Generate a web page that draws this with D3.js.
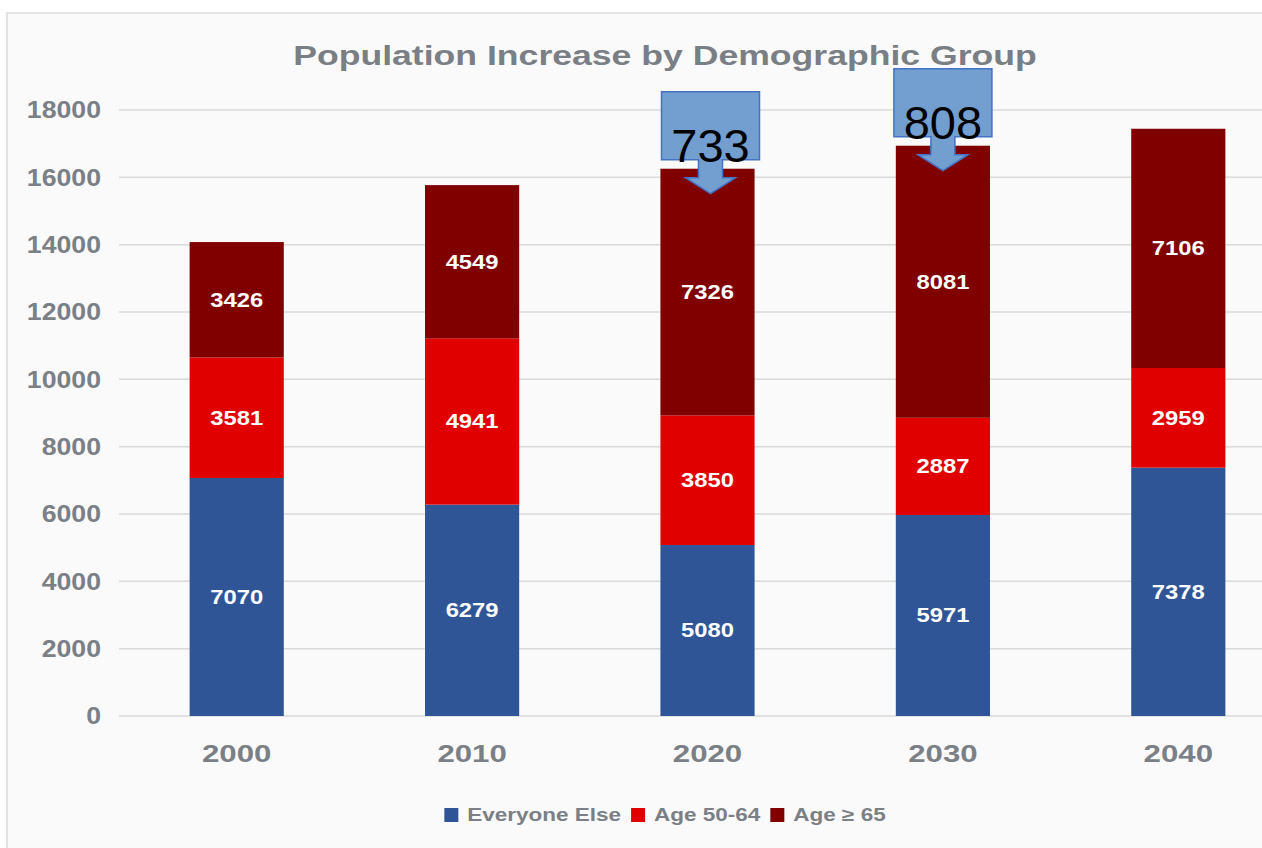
<!DOCTYPE html>
<html>
<head>
<meta charset="utf-8">
<script src="https://cdn.jsdelivr.net/npm/d3@7.9.0/dist/d3.min.js"></script>
<style>
  html, body { margin: 0; padding: 0; background: #fff; }
  svg { display: block; font-family: "Liberation Sans", Arial, sans-serif; }
</style>
</head>
<body>
<svg id="chart" width="1262" height="848"></svg>
<script>
const years = ["2000", "2010", "2020", "2030", "2040"];
const everyoneElse = [7070, 6279, 5080, 5971, 7378];
const age5064 = [3581, 4941, 3850, 2887, 2959];
const age65 = [3426, 4549, 7326, 8081, 7106];
const seriesNames = ["Everyone Else", "Age 50-64", "Age \u2265 65"];
const seriesColors = ["#2f5597", "#e00000", "#800000"];
const yTicks = [0, 2000, 4000, 6000, 8000, 10000, 12000, 14000, 16000, 18000];
const callouts = [{ year: "2020", text: "733" }, { year: "2030", text: "808" }];

const W = 1262, H = 848;
const svg = d3.select("#chart");
const grey = "#7b7f86";

// frame
svg.append("rect").attr("x", 7).attr("y", 13).attr("width", 1300).attr("height", 900)
  .attr("fill", "#fafafa").attr("stroke", "#e2e2e2").attr("stroke-width", 2);

const x = d3.scaleBand().domain(years).range([119, 1296]).paddingInner(0.6).paddingOuter(0.3);
const y = d3.scaleLinear().domain([0, 18000]).range([716, 110]);

// grid
svg.append("g").selectAll("line").data(yTicks).join("line")
  .attr("x1", 119).attr("x2", W)
  .attr("y1", d => y(d)).attr("y2", d => y(d))
  .attr("stroke", "#dadada").attr("stroke-width", 1.5);

// y tick labels
svg.append("g").selectAll("text").data(yTicks).join("text")
  .attr("transform", d => `translate(101,${y(d)}) scale(1.16,1)`)
  .attr("text-anchor", "end").attr("dominant-baseline", "central")
  .attr("font-size", 23).attr("font-weight", "bold").attr("fill", grey)
  .text(d => d);

// stacked bars
const rows = years.map((yr, i) => ({ year: yr, s0: everyoneElse[i], s1: age5064[i], s2: age65[i] }));
const stack = d3.stack().keys(["s0", "s1", "s2"])(rows);

const layers = svg.append("g").selectAll("g").data(stack).join("g")
  .attr("fill", (d, i) => seriesColors[i]);

layers.selectAll("rect").data(d => d).join("rect")
  .attr("x", d => x(d.data.year))
  .attr("width", x.bandwidth())
  .attr("y", d => y(d[1]))
  .attr("height", d => y(d[0]) - y(d[1]));

layers.selectAll("text").data(d => d).join("text")
  .attr("transform", d => `translate(${x(d.data.year) + x.bandwidth() / 2},${y((d[0] + d[1]) / 2)}) scale(1.19,1)`)
  .attr("text-anchor", "middle").attr("dominant-baseline", "central")
  .attr("font-size", 20).attr("font-weight", "bold").attr("fill", "#fff")
  .text(d => d[1] - d[0]);

// x labels
svg.append("g").selectAll("text").data(years).join("text")
  .attr("transform", d => `translate(${x(d) + x.bandwidth() / 2},754) scale(1.3,1)`)
  .attr("text-anchor", "middle").attr("dominant-baseline", "central")
  .attr("font-size", 24).attr("font-weight", "bold").attr("fill", grey)
  .text(d => d);

// title
const title = svg.append("text")
  .attr("text-anchor", "middle").attr("dominant-baseline", "central")
  .attr("font-size", 28).attr("font-weight", "bold").attr("fill", "#7a7e85")
  .text("Population Increase by Demographic Group");
const tw = title.node().getComputedTextLength();
title.attr("transform", `translate(665,55) scale(${744 / tw},1)`);

// legend
const legend = svg.append("g");
let lx = 0;
seriesNames.forEach((name, i) => {
  const g = legend.append("g").attr("transform", `translate(${lx},0)`);
  g.append("rect").attr("x", 0).attr("y", -7).attr("width", 14).attr("height", 14).attr("fill", seriesColors[i]);
  const t = g.append("text")
    .attr("transform", "translate(23,0) scale(1.25,1)")
    .attr("dominant-baseline", "central")
    .attr("font-size", 18).attr("font-weight", "bold").attr("fill", grey)
    .text(name);
  lx += 23 + t.node().getComputedTextLength() * 1.25 + 10;
});
legend.attr("transform", `translate(${665 - (lx - 10) / 2},815)`);

// callout arrows
const totals = years.map((yr, i) => everyoneElse[i] + age5064[i] + age65[i]);
callouts.forEach((c, k) => {
  const i = years.indexOf(c.year);
  const cx = x(c.year) + x.bandwidth() / 2 + (k === 0 ? 3 : 0);
  const tip = y(totals[i]) + 25;
  const boxH = 68, stemH = 18, headH = 16, bw = 49, sw = 12, hw = 25;
  const b = tip - headH - stemH, t = b - boxH;
  const pts = [
    [cx - bw, t], [cx + bw, t], [cx + bw, b], [cx + sw, b], [cx + sw, b + stemH],
    [cx + hw, b + stemH], [cx, tip], [cx - hw, b + stemH], [cx - sw, b + stemH],
    [cx - sw, b], [cx - bw, b]
  ];
  svg.append("path").attr("d", d3.line()(pts) + "Z")
    .attr("fill", "#729fcf").attr("stroke", "#4472c4").attr("stroke-width", 1.5);
  svg.append("text").attr("x", cx).attr("y", b + 2)
    .attr("text-anchor", "middle")
    .attr("font-size", 47).attr("fill", "#000")
    .text(c.text);
});
</script>
</body>
</html>
